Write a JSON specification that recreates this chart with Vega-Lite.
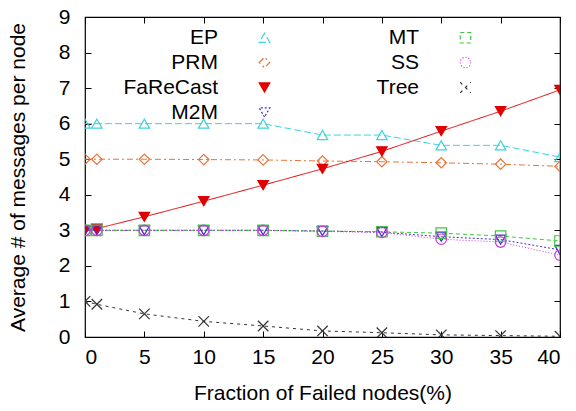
{
  "$schema": "https://vega.github.io/schema/vega-lite/v6.json",
  "width": 475,
  "height": 320,
  "autosize": "none",
  "padding": {"left": 85, "top": 17, "right": 16, "bottom": 74},
  "config": {
    "font": "Liberation Sans",
    "view": {"stroke": "#000", "strokeWidth": 1.2},
    "axis": {"grid": false, "domain": false, "tickColor": "#000", "tickSize": -6, "labelColor": "#000", "titleColor": "#000", "labelFontSize": 21, "titleFontSize": 21, "titleFontWeight": "normal", "labelFont": "Liberation Sans", "titleFont": "Liberation Sans"}
  },
  "data": {"values": [
    {"x": 0, "series": "EP", "y": 6}, {"x": 1, "series": "EP", "y": 6}, {"x": 5, "series": "EP", "y": 6}, {"x": 10, "series": "EP", "y": 6}, {"x": 15, "series": "EP", "y": 6}, {"x": 20, "series": "EP", "y": 5.68}, {"x": 25, "series": "EP", "y": 5.68}, {"x": 30, "series": "EP", "y": 5.39}, {"x": 35, "series": "EP", "y": 5.39}, {"x": 40, "series": "EP", "y": 5.06},
    {"x": 0, "series": "PRM", "y": 5}, {"x": 1, "series": "PRM", "y": 5}, {"x": 5, "series": "PRM", "y": 5}, {"x": 10, "series": "PRM", "y": 4.99}, {"x": 15, "series": "PRM", "y": 4.98}, {"x": 20, "series": "PRM", "y": 4.95}, {"x": 25, "series": "PRM", "y": 4.93}, {"x": 30, "series": "PRM", "y": 4.9}, {"x": 35, "series": "PRM", "y": 4.86}, {"x": 40, "series": "PRM", "y": 4.8},
    {"x": 0, "series": "FaReCast", "y": 3}, {"x": 1, "series": "FaReCast", "y": 3.05}, {"x": 5, "series": "FaReCast", "y": 3.38}, {"x": 10, "series": "FaReCast", "y": 3.82}, {"x": 15, "series": "FaReCast", "y": 4.27}, {"x": 20, "series": "FaReCast", "y": 4.73}, {"x": 25, "series": "FaReCast", "y": 5.22}, {"x": 30, "series": "FaReCast", "y": 5.79}, {"x": 35, "series": "FaReCast", "y": 6.35}, {"x": 40, "series": "FaReCast", "y": 6.95},
    {"x": 0, "series": "M2M", "y": 3}, {"x": 1, "series": "M2M", "y": 3}, {"x": 5, "series": "M2M", "y": 3}, {"x": 10, "series": "M2M", "y": 3}, {"x": 15, "series": "M2M", "y": 3}, {"x": 20, "series": "M2M", "y": 2.98}, {"x": 25, "series": "M2M", "y": 2.95}, {"x": 30, "series": "M2M", "y": 2.82}, {"x": 35, "series": "M2M", "y": 2.74}, {"x": 40, "series": "M2M", "y": 2.45},
    {"x": 0, "series": "MT", "y": 3}, {"x": 1, "series": "MT", "y": 3}, {"x": 5, "series": "MT", "y": 3}, {"x": 10, "series": "MT", "y": 3}, {"x": 15, "series": "MT", "y": 3}, {"x": 20, "series": "MT", "y": 2.98}, {"x": 25, "series": "MT", "y": 2.96}, {"x": 30, "series": "MT", "y": 2.92}, {"x": 35, "series": "MT", "y": 2.84}, {"x": 40, "series": "MT", "y": 2.7},
    {"x": 0, "series": "SS", "y": 3}, {"x": 1, "series": "SS", "y": 3}, {"x": 5, "series": "SS", "y": 3}, {"x": 10, "series": "SS", "y": 3}, {"x": 15, "series": "SS", "y": 3}, {"x": 20, "series": "SS", "y": 2.97}, {"x": 25, "series": "SS", "y": 2.94}, {"x": 30, "series": "SS", "y": 2.75}, {"x": 35, "series": "SS", "y": 2.67}, {"x": 40, "series": "SS", "y": 2.3},
    {"x": 0, "series": "Tree", "y": 1}, {"x": 1, "series": "Tree", "y": 0.92}, {"x": 5, "series": "Tree", "y": 0.65}, {"x": 10, "series": "Tree", "y": 0.44}, {"x": 15, "series": "Tree", "y": 0.31}, {"x": 20, "series": "Tree", "y": 0.17}, {"x": 25, "series": "Tree", "y": 0.12}, {"x": 30, "series": "Tree", "y": 0.06}, {"x": 35, "series": "Tree", "y": 0.04}, {"x": 40, "series": "Tree", "y": 0.02}
  ]},
  "layer": [
    {
      "mark": {"type": "line", "strokeWidth": 1, "clip": true},
      "encoding": {
        "x": {"field": "x", "type": "quantitative", "scale": {"domain": [0, 40], "nice": false, "zero": false},
              "axis": {"values": [0, 5, 10, 15, 20, 25, 30, 35, 40], "title": "Fraction of Failed nodes(%)", "labelPadding": 15, "titlePadding": 15}},
        "y": {"field": "y", "type": "quantitative", "scale": {"domain": [0, 9], "nice": false},
              "axis": {"values": [0, 1, 2, 3, 4, 5, 6, 7, 8, 9], "title": "Average # of messages per node", "labelPadding": 21, "titlePadding": 30}},
        "stroke": {"field": "series", "type": "nominal", "title": null,
                   "scale": {"domain": ["EP", "PRM", "FaReCast", "M2M", "MT", "SS", "Tree"], "range": ["#3fd3dc", "#e8743a", "#e00000", "#4430c8", "#3cc83c", "#cc3ae0", "#333333"]},
                   "legend": {"orient": "none", "legendX": 39, "legendY": 10, "columns": 2, "symbolOffset": 130, "labelAlign": "right", "labelOffset": -57, "labelFontSize": 21, "labelColor": "#000", "symbolSize": 110, "symbolStrokeWidth": 1.2, "symbolDash": [1, 0], "rowPadding": 3, "columnPadding": 52}},
        "strokeDash": {"field": "series", "type": "nominal", "legend": null,
                   "scale": {"domain": ["EP", "PRM", "FaReCast", "M2M", "MT", "SS", "Tree"], "range": [[7, 3], [6, 3, 2, 3], [1, 0], [2, 2], [4, 3], [1, 2], [3, 4]]}}
      }
    },
    {
      "mark": {"type": "point", "size": 110, "strokeWidth": 1.2, "opacity": 1, "clip": true},
      "encoding": {
        "x": {"field": "x", "type": "quantitative", "axis": {"orient": "top", "values": [0, 5, 10, 15, 20, 25, 30, 35, 40], "labels": false, "title": null}},
        "y": {"field": "y", "type": "quantitative", "axis": {"orient": "right", "values": [0, 1, 2, 3, 4, 5, 6, 7, 8, 9], "labels": false, "title": null}},
        "stroke": {"field": "series", "type": "nominal", "title": null},
        "fill": {"field": "series", "type": "nominal", "title": null,
                 "scale": {"domain": ["EP", "PRM", "FaReCast", "M2M", "MT", "SS", "Tree"], "range": ["transparent", "transparent", "#e00000", "transparent", "transparent", "transparent", "transparent"]}},
        "shape": {"field": "series", "type": "nominal", "title": null,
                  "scale": {"domain": ["EP", "PRM", "FaReCast", "M2M", "MT", "SS", "Tree"], "range": ["triangle-up", "diamond", "triangle-down", "triangle-down", "square", "circle", "M-1,-1L1,1M-1,1L1,-1"]}}
      }
    }
  ],
  "resolve": {"axis": {"x": "independent", "y": "independent"}}
}
